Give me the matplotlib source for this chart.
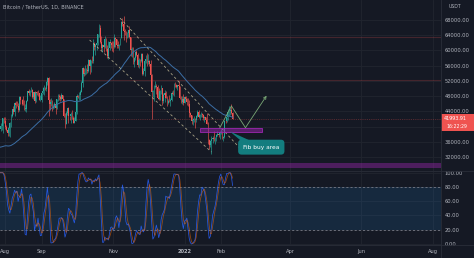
import matplotlib
matplotlib.use('Agg')
import matplotlib.pyplot as plt
import matplotlib.dates as mdates
from matplotlib.patches import Rectangle, Polygon
from matplotlib.lines import Line2D
import numpy as np
import pandas as pd

# ---- data (thousand USDT) ----
# closes before the visible window (Jun 8 - Jul 27 2021), only used by SMA / Stoch RSI
warmup_close = [33.56, 37.34, 36.70, 37.33, 35.55, 39.02, 40.53, 40.14, 38.35, 38.09,
                35.82, 35.48, 35.60, 31.68, 32.51, 33.68, 34.66, 31.60, 32.24, 34.65,
                34.49, 35.91, 35.04, 33.57, 33.90, 34.69, 35.29, 33.69, 34.22, 33.86,
                32.88, 33.82, 33.51, 34.26, 33.09, 32.73, 32.82, 31.78, 31.42, 31.52,
                31.78, 30.84, 29.79, 32.14, 32.31, 33.58, 34.29, 35.40, 37.27, 39.45]

# visible daily candles, Jul 28 2021 - Feb 11 2022 (open = previous close)
close = ([40.02, 40.02, 42.21, 41.46] +
         [39.85, 39.15, 38.21, 39.72, 40.86, 42.84, 44.57, 43.79, 46.25, 45.58, 45.51, 44.40, 47.80, 47.07, 46.97, 45.90,
          44.70, 44.71, 46.76, 49.34, 48.91, 49.32, 49.55, 47.71, 48.96, 46.84, 49.07, 48.90, 48.77, 46.97, 47.10] +
         [48.81, 49.25, 50.00, 49.92, 51.76, 52.66, 46.86, 46.05, 46.40, 44.85, 45.17, 46.03, 44.94, 47.11, 48.12,
          47.74, 47.30, 48.29, 47.24, 42.84, 40.69, 43.57, 44.90, 42.84, 42.72, 43.21, 42.24, 41.03, 41.56, 43.79] +
         [48.12, 47.71, 48.20, 49.11, 51.51, 55.36, 53.81, 53.97, 54.97, 54.66, 57.48, 56.04, 57.40, 57.32, 61.59, 60.89,
          61.55, 62.03, 64.26, 65.99, 62.21, 60.69, 61.39, 60.93, 63.04, 60.36, 58.48, 60.62, 62.23, 61.89, 61.32] +
         [61.00, 63.23, 62.97, 61.45, 61.13, 61.53, 63.33, 67.57, 66.97, 65.00, 64.95, 64.16, 64.47, 65.47, 63.56,
          60.16, 60.37, 56.94, 58.12, 59.70, 58.73, 56.29, 57.57, 57.18, 58.96, 53.73, 54.72, 57.27, 57.78, 56.95] +
         [57.18, 56.48, 53.60, 49.15, 49.40, 50.44, 50.59, 50.47, 47.55, 47.14, 49.39, 50.05, 46.70, 48.34, 48.86, 47.63,
          46.13, 46.83, 46.68, 46.91, 48.89, 48.59, 50.84, 50.82, 50.43, 50.81, 50.68, 47.54, 46.47, 47.12, 46.22] +
         [47.72, 47.29, 46.45, 45.83, 43.43, 43.08, 41.57, 41.68, 41.87, 41.82, 42.74, 43.92, 42.59, 43.10, 43.18, 43.11,
          42.25, 42.38, 41.74, 40.68, 36.46, 35.03, 36.28, 36.66, 36.95, 36.81, 37.16, 37.72, 38.17, 37.88, 38.47] +
         [38.69, 36.90, 37.31, 41.58, 41.38, 42.38, 43.84, 44.04, 44.38, 43.50, 41.99])
high = ([40.90, 40.64, 42.30, 42.40] +
        [42.60, 40.40, 39.80, 39.97, 41.30, 43.40, 44.70, 45.30, 46.40, 46.60, 46.70, 46.20, 47.90, 48.10, 47.30, 48.00,
         47.10, 46.00, 47.00, 49.35, 49.80, 49.50, 50.50, 49.90, 49.20, 49.30, 49.10, 49.30, 49.70, 48.90, 48.25] +
        [48.90, 50.40, 51.00, 50.50, 51.90, 52.90, 52.90, 47.30, 47.40, 47.00, 45.90, 46.40, 46.80, 47.25, 48.45,
         48.50, 48.20, 48.80, 48.35, 47.30, 43.60, 44.00, 44.95, 45.20, 42.90, 43.90, 44.30, 42.80, 42.60, 44.10] +
        [48.50, 48.30, 49.10, 49.50, 51.90, 55.75, 55.40, 56.10, 55.40, 56.50, 57.80, 57.70, 57.60, 58.50, 62.90, 62.30,
         61.70, 62.70, 64.40, 66.90, 66.60, 63.70, 61.70, 61.50, 63.70, 63.30, 61.40, 62.40, 62.90, 62.30, 62.40] +
        [62.40, 64.30, 63.50, 63.10, 62.60, 61.60, 63.40, 67.80, 68.50, 69.00, 65.60, 65.00, 64.90, 65.50, 66.30,
         63.60, 60.80, 60.90, 58.40, 59.80, 60.00, 59.30, 57.90, 57.70, 59.40, 59.20, 55.30, 57.40, 58.90, 59.20] +
        [59.00, 57.40, 57.60, 53.90, 49.70, 50.90, 51.90, 51.10, 50.80, 50.10, 49.50, 50.80, 50.20, 48.70, 49.50, 49.40,
         47.90, 47.30, 48.30, 47.50, 49.30, 49.60, 51.40, 51.80, 51.20, 51.00, 52.00, 50.70, 48.10, 47.90, 48.50] +
        [47.90, 47.90, 47.60, 47.50, 47.00, 43.70, 43.10, 42.30, 42.80, 42.20, 43.00, 44.30, 44.40, 43.40, 43.80, 43.50,
         43.20, 42.70, 42.60, 43.50, 41.10, 36.80, 36.40, 37.50, 37.50, 38.90, 37.20, 38.00, 38.70, 38.30, 38.70] +
        [39.25, 38.85, 37.40, 41.70, 41.90, 42.60, 44.50, 45.50, 44.80, 45.80, 43.90])
low = ([38.80, 39.20, 38.30, 41.00] +
       [39.40, 38.70, 37.60, 37.50, 37.30, 39.90, 42.50, 43.30, 42.80, 44.80, 45.30, 43.80, 44.20, 45.90, 45.60, 45.60,
        44.40, 44.20, 43.90, 46.60, 48.30, 48.00, 49.00, 47.60, 47.20, 46.30, 46.40, 48.40, 47.90, 46.90, 46.70] +
       [46.50, 48.60, 48.40, 49.50, 49.40, 50.90, 42.80, 44.40, 45.50, 44.20, 44.70, 44.80, 43.40, 44.70, 46.70,
        47.00, 46.70, 47.00, 46.80, 42.50, 39.60, 40.60, 43.10, 40.80, 41.70, 40.80, 42.10, 40.90, 40.80, 41.40] +
       [43.30, 47.40, 47.10, 46.90, 49.10, 50.40, 53.40, 53.60, 53.70, 54.10, 54.40, 53.90, 54.30, 56.80, 56.80, 60.20,
        58.90, 60.00, 61.30, 63.50, 62.00, 60.00, 59.70, 59.50, 60.70, 59.90, 58.10, 57.80, 60.20, 60.70, 59.90] +
       [59.60, 60.70, 60.80, 60.70, 60.70, 60.10, 61.40, 63.30, 66.40, 62.80, 64.10, 62.30, 63.40, 63.60, 63.40,
        58.60, 58.40, 56.50, 55.60, 57.40, 58.60, 55.60, 55.40, 55.90, 57.00, 53.50, 53.60, 53.30, 56.70, 55.90] +
       [56.50, 55.80, 51.70, 42.00, 47.70, 46.80, 50.00, 48.60, 47.30, 46.90, 46.90, 48.60, 45.60, 46.30, 46.50, 47.50,
        45.50, 45.90, 46.40, 45.50, 46.60, 48.40, 47.90, 50.50, 50.20, 49.50, 50.40, 47.30, 46.10, 45.90, 45.70] +
       [46.20, 46.70, 45.70, 45.50, 42.50, 42.40, 40.60, 40.50, 41.20, 39.65, 41.30, 42.50, 42.30, 41.80, 42.60, 42.60,
        41.60, 41.30, 41.10, 40.60, 35.50, 34.00, 34.60, 32.90, 35.70, 36.30, 35.50, 36.20, 37.40, 37.30, 36.60] +
       [38.00, 36.60, 36.25, 36.90, 40.90, 41.10, 41.70, 42.70, 43.10, 43.20, 41.90])

last_price = 41993.91
last_time = '16:22:29'
price_ticks = [32000, 36000, 40000, 44000, 48000, 52000, 56000, 60000, 64000, 68000]
rsi_ticks = [0, 20, 40, 60, 80, 100]
month_ticks = ['2021-08-01', '2021-09-01', '2021-11-01', '2022-01-01', '2022-02-01',
               '2022-04-01', '2022-06-01', '2022-08-01']
month_labels = ['Aug', 'Sep', 'Nov', '2022', 'Feb', 'Apr', 'Jun', 'Aug']

# drawings on the chart
h_levels = [63450, 52230]
purple_band = (29100, 30420)
channel_upper = (['2021-11-07', '2022-02-17'], [68500, 34400])
channel_lower = (['2021-10-12', '2022-01-24'], [62750, 33300])
path_dates = ['2022-01-31', '2022-02-10', '2022-02-22', '2022-03-12']
path_prices = [39600, 45400, 39700, 48100]
fib_zone = ('2022-01-14', '2022-03-08', 38500, 39550)
callout_text = 'Fib buy area'
callout_at = ('2022-03-07 12:00', 34580)
callout_tip = ('2022-02-08 18:00', 38700)

# ---- derived ----
all_close = np.array(warmup_close + close) * 1000
n_warm = len(warmup_close)
dates = pd.date_range('2021-06-08', periods=len(all_close), freq='D')
xs = mdates.date2num(dates.values)
o = all_close[n_warm - 1:-1]
c = all_close[n_warm:]
h = np.array(high) * 1000
l = np.array(low) * 1000
xv = xs[n_warm:]

sma50 = pd.Series(all_close).rolling(50).mean().values


def rma(vals, n):
    out = np.full(len(vals), np.nan)
    out[n - 1] = np.mean(vals[:n])
    for i in range(n, len(vals)):
        out[i] = (out[i - 1] * (n - 1) + vals[i]) / n
    return out


diff = np.diff(all_close)
ag = rma(np.clip(diff, 0, None), 14)
al = rma(np.clip(-diff, 0, None), 14)
rsi = pd.Series(np.concatenate([[np.nan], 100 - 100 / (1 + ag / al)]))
lo, hi = rsi.rolling(14).min(), rsi.rolling(14).max()
stoch = 100 * (rsi - lo) / (hi - lo)
k = stoch.rolling(3).mean()
d = k.rolling(3).mean()

# ---- style ----
bg = '#151924'
grid_c = '#21252f'
txt_c = '#b2b5be'
up_c = '#26a69a'
dn_c = '#ef5350'
W, H = 474, 258


def fig_box(x0, y0, x1, y1):
    return [x0 / W, 1 - y1 / H, (x1 - x0) / W, (y1 - y0) / H]


def dn(s):
    return mdates.date2num(np.datetime64(s))


fig = plt.figure(figsize=(W / 100, H / 100), dpi=100, facecolor=bg)
ax = fig.add_axes(fig_box(0, 0, 441, 170.5))
ax2 = fig.add_axes(fig_box(0, 171.5, 441, 245))

px_day = 1.172
x_left = dn('2021-08-01') - 5.2 / px_day
x_right = x_left + 441 / px_day
mx = [dn(m) for m in month_ticks]

for a in (ax, ax2):
    a.set_facecolor(bg)
    for s in a.spines.values():
        s.set_visible(False)
    a.yaxis.tick_right()
    a.tick_params(length=0, colors=txt_c, labelsize=3.7, pad=2.4)
    a.set_xlim(x_left, x_right)
    a.set_xticks(mx)
    a.grid(True, color=grid_c, lw=0.6)
    a.set_axisbelow(True)

# main pane (the 40000 label sits under the last-price tag, so it is left blank)
ax.set_ylim(28447, 73256)
ax.set_yticks(price_ticks)
ax.set_yticklabels(['' if v == 40000 else f'{v:.2f}' for v in price_ticks])
ax.tick_params(labelbottom=False)

ax.axhspan(*purple_band, fc='#9c27b0', alpha=0.42, lw=0, zorder=1)
for lv in h_levels:
    ax.axhline(lv, color=dn_c, lw=0.8, alpha=0.22, zorder=1)
ax.axhline(last_price, color=dn_c, lw=0.6, alpha=0.4, ls=(0, (1, 1.2)), zorder=1)

colors = np.where(c >= o, up_c, dn_c)
ax.vlines(xv, l, h, colors=colors, lw=0.45, zorder=2)
body = np.abs(c - o)
ax.bar(xv, np.maximum(body, 60), bottom=np.minimum(o, c), width=0.7, color=colors, lw=0, zorder=3)

ax.plot(xs[49:], sma50[49:], color='#3b6ea5', lw=0.7, zorder=4)

for dd, pp in (channel_upper, channel_lower):
    ax.plot([dn(t) for t in dd], pp, color='#d8cfa5', lw=0.6, alpha=0.75,
            dashes=(3, 3), zorder=4)

px = [dn(t) for t in path_dates]
ax.plot(px[:-1], path_prices[:-1], color='#7aa876', lw=0.6, zorder=5)
ax.annotate('', xy=(px[-1], path_prices[-1]), xytext=(px[-2], path_prices[-2]),
            arrowprops=dict(arrowstyle='->', color='#7aa876', lw=0.6,
                            shrinkA=0, shrinkB=0, mutation_scale=5), zorder=5)

fz0, fz1 = dn(fib_zone[0]), dn(fib_zone[1])
ax.add_patch(Rectangle((fz0, fib_zone[2]), fz1 - fz0, fib_zone[3] - fib_zone[2],
                       fc=(0.61, 0.15, 0.69, 0.5), ec='#9c27b0', lw=0.6, zorder=5))

teal = '#137d7f'
cx, cy = dn(callout_at[0]), callout_at[1]
tx, ty = dn(callout_tip[0]), callout_tip[1]
ax.add_patch(Polygon([(tx, ty), (dn('2022-02-18'), 36300), (dn('2022-02-26'), 36300)],
                     closed=True, fc=teal, ec='none', zorder=6))
ax.text(cx, cy, callout_text, ha='center', va='center', color='white', fontsize=4.2,
        bbox=dict(boxstyle='round,pad=0.85,rounding_size=0.6', fc=teal, ec='none'), zorder=7)

# stoch rsi pane
ax2.set_ylim(-1.4, 101.7)
ax2.set_yticks(rsi_ticks)
ax2.set_yticklabels([f'{v:.2f}' for v in rsi_ticks])
ax2.axhspan(20, 80, fc='#2196f3', alpha=0.13, lw=0, zorder=1)
for lv in (20, 80):
    ax2.axhline(lv, color='#787b86', lw=0.6, dashes=(2.5, 2.5), zorder=2)
ax2.plot(xs, k, color='#2962ff', lw=0.55, alpha=0.85, zorder=3)
ax2.plot(xs, d, color='#ff6d00', lw=0.55, alpha=0.55, zorder=3)
ax2.set_xticklabels(month_labels)
ax2.tick_params(axis='x', pad=2.6)
ax2.get_xticklabels()[3].set_fontweight('bold')

# pane / scale separators
for seg in (([441 / W, 441 / W], [0, 1]),
            ([0, 1], [1 - 171 / H, 1 - 171 / H]),
            ([0, 1], [1 - 245.3 / H, 1 - 245.3 / H])):
    fig.add_artist(Line2D(seg[0], seg[1], color='#2a2e39', lw=0.6))

# header and price label
fig.text(3.3 / W, 1 - 6.7 / H, 'Bitcoin / TetherUS, 1D, BINANCE', fontsize=3.6,
         color=txt_c, va='center')
fig.text(449 / W, 1 - 6.7 / H, 'USDT', fontsize=3.3, color=txt_c, va='center')
fig.patches.append(Rectangle((441 / W, 1 - 131 / H), 33 / W, 17 / H,
                             transform=fig.transFigure, fc=dn_c, ec='none'))
fig.text(444 / W, 1 - 118.2 / H, f'{last_price:.2f}', fontsize=3.5, color='white', va='center')
fig.text(446 / W, 1 - 126.6 / H, last_time, fontsize=3.3, color='white', va='center')

fig.savefig('out.png', dpi=100, facecolor=bg)
